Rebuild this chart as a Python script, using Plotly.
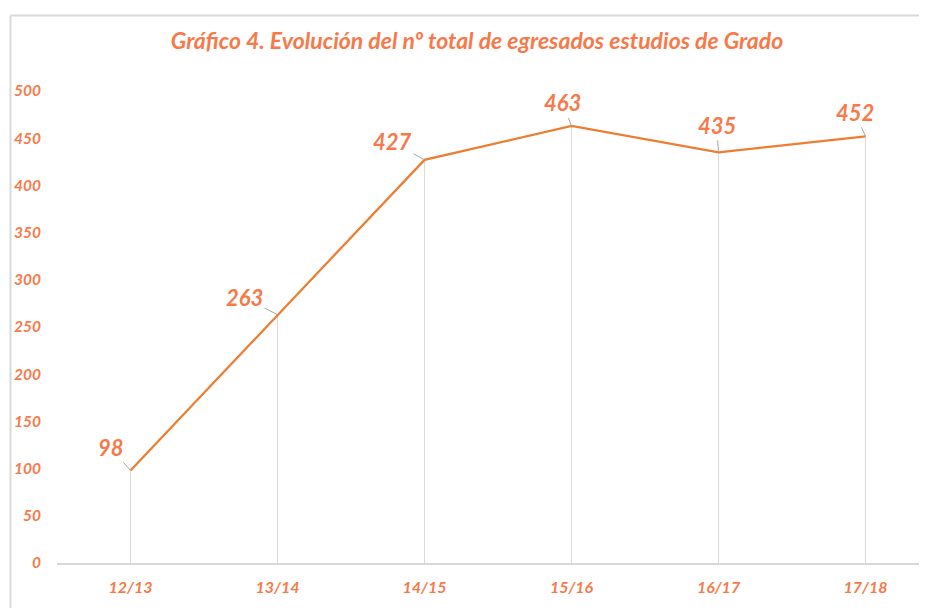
import plotly.graph_objects as go

categories = ["12/13", "13/14", "14/15", "15/16", "16/17", "17/18"]
values = [98, 263, 427, 463, 435, 452]
y_ticks = [0, 50, 100, 150, 200, 250, 300, 350, 400, 450, 500]
title_text = "Gráfico 4. Evolución del nº total de egresados estudios de Grado"

TEXT = "#F7794A"
LINE = "#ED7D31"
GRAY = "#D9D9D9"
FONT = "Lato"

xs = list(range(len(categories)))

# drop lines
dx, dy = [], []
for i, v in zip(xs, values):
    dx += [i, i, None]
    dy += [0, v, None]

fig = go.Figure()
fig.add_trace(go.Scatter(x=dx, y=dy, mode="lines", line=dict(color=GRAY, width=1),
                         hoverinfo="skip", showlegend=False))
fig.add_trace(go.Scatter(x=xs, y=values, mode="lines", line=dict(color=LINE, width=2.25),
                         showlegend=False))

offsets = [(-20, -23), (-33, -17), (-32, -18), (-9, -23), (-2, -27), (-11, -24)]
for i, (v, (ax, ay)) in enumerate(zip(values, offsets)):
    fig.add_annotation(x=i, y=v, text=str(v), showarrow=True, arrowhead=0,
                       arrowcolor="#A6A6A6", arrowwidth=1, ax=ax, ay=ay,
                       standoff=0,
                       font=dict(family=FONT, size=22, color=TEXT, weight="bold", style="italic"))

# page is offset by the 8px body margin
FW, FH = 919, 600
L, R, T, B = 49, 919, 62, 555
W, H = R - L, B - T
def px(x):
    return (x - L) / W
def py(y):
    return (B - y) / H
fig.add_shape(type="line", xref="paper", yref="paper", x0=px(2.5), x1=px(2.5), y0=py(600), y1=py(7.5),
              line=dict(color=GRAY, width=2))
fig.add_shape(type="line", xref="paper", yref="paper", x0=px(2.5), x1=px(918), y0=py(7.5), y1=py(7.5),
              line=dict(color=GRAY, width=2))

fig.update_layout(
    width=FW, height=FH,
    margin=dict(l=L, r=FW - R, t=T, b=FH - B),
    paper_bgcolor="white", plot_bgcolor="white",
    title=dict(text=title_text, x=469 / FW, xanchor="center", y=1 - 33 / FH, yanchor="middle",
               font=dict(family=FONT, size=23, color=TEXT, weight="bold", style="italic")),
    xaxis=dict(tickmode="array", tickvals=xs, ticktext=categories, range=[-0.5, 5.418],
               showgrid=False, zeroline=False, showline=True, linecolor=GRAY, linewidth=2,
               ticks="", ticklen=0, ticklabelstandoff=9,
               tickfont=dict(family=FONT, size=16, color=TEXT, weight="bold", style="italic")),
    yaxis=dict(tickmode="array", tickvals=y_ticks, range=[0, 522.2],
               showgrid=False, zeroline=False, showline=False, ticks="", ticklen=0,
               ticklabelstandoff=15,
               tickfont=dict(family=FONT, size=15.5, color=TEXT, weight="bold", style="italic")),
)

fig.write_html("out.html")
